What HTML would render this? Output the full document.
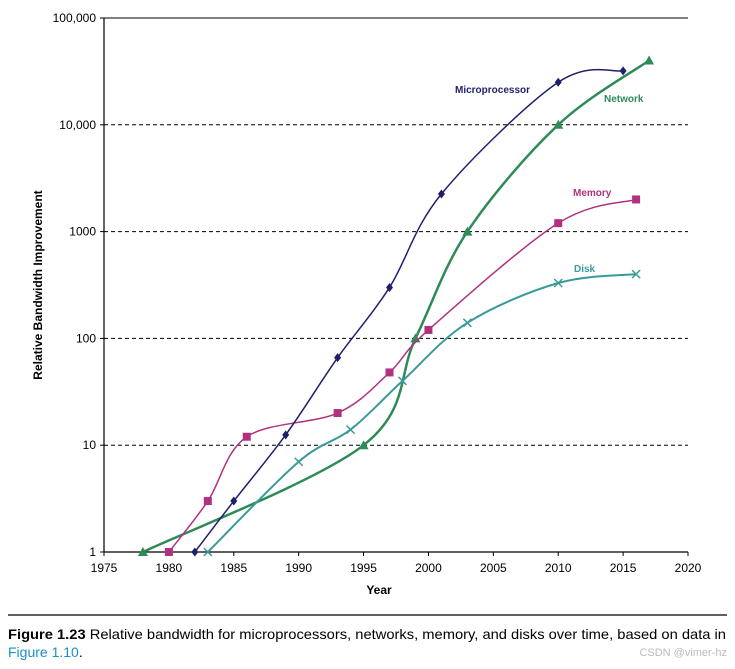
<!DOCTYPE html>
<html><head><meta charset="utf-8"><style>
body{margin:0;background:#fff;width:735px;height:664px;overflow:hidden;font-family:"Liberation Sans",sans-serif}
</style></head><body>
<svg id="chart" width="735" height="664" xmlns="http://www.w3.org/2000/svg" font-family="Liberation Sans, sans-serif">
<g id="grid"></g>
<g id="axes"></g>
<g id="series"></g>
<text x="379" y="594" font-size="12" font-weight="bold" text-anchor="middle">Year</text>
<text transform="translate(42,285) rotate(-90)" font-size="12" font-weight="bold" text-anchor="middle">Relative Bandwidth Improvement</text>
<line x1="8" y1="615" x2="727" y2="615" stroke="#000" stroke-width="1.2"/>
<text x="8" y="639" font-size="14" textLength="718" lengthAdjust="spacingAndGlyphs"><tspan font-weight="bold">Figure 1.23</tspan>  Relative bandwidth for microprocessors, networks, memory, and disks over time, based on data in</text>
<text x="8" y="657" font-size="14" fill="#1a8fc9">Figure 1.10<tspan fill="#000">.</tspan></text>
<text x="727" y="656" font-size="11" fill="#bbb" text-anchor="end">CSDN @vimer-hz</text>
</svg>
<script>
const xTicks=[1975,1980,1985,1990,1995,2000,2005,2010,2015,2020];
const yTicks=[1,10,100,1000,10000,100000];
const yTickLabels=["1","10","100","1000","10,000","100,000"];
const microYears=[1982,1985,1989,1993,1997,2001,2010,2015];
const microVals=[1,3,12.5,66,300,2250,25000,32000];
const netYears=[1978,1995,1999,2003,2010,2017];
const netVals=[1,10,100,1000,10000,40000];
const memYears=[1980,1983,1986,1993,1997,2000,2010,2016];
const memVals=[1,3,12,20,48,120,1200,2000];
const diskYears=[1983,1990,1994,1998,2003,2010,2016];
const diskVals=[1,7,14,40,140,330,400];
const NS="http://www.w3.org/2000/svg";
const X0=104,X1=688,Y0=552,Y1=18;
const xs=v=>X0+(v-1975)/(2020-1975)*(X1-X0);
const ys=v=>Y0-Math.log10(v)/5*(Y0-Y1);
function mk(tag,attrs,parent){const e=document.createElementNS(NS,tag);for(const k in attrs)e.setAttribute(k,attrs[k]);parent.appendChild(e);return e;}
const grid=document.getElementById('grid'),axes=document.getElementById('axes'),ser=document.getElementById('series');
yTicks.forEach((t,i)=>{
  const y=ys(t);
  if(i>0&&i<yTicks.length-1){const l=mk('line',{x1:X0,x2:X1,y1:y,y2:y,stroke:'#000','stroke-dasharray':'4,3','stroke-width':1},grid);
  
  }
  const tk=mk('line',{x1:X0-4,x2:X0,y1:y,y2:y,stroke:'#000'},axes);
  
  
  const tx=mk('text',{x:X0-8,y:y+4,'font-size':12,'text-anchor':'end'},axes);tx.textContent=yTickLabels[i];
  
  
});
const topBorder=mk('line',{x1:X0,x2:X1,y1:Y1,y2:Y1,stroke:'#000'},axes);


const yAxisLine=mk('line',{x1:X0,x2:X0,y1:Y1,y2:Y0,stroke:'#000','stroke-width':1.2},axes);


const xAxisLine=mk('line',{x1:X0,x2:X1,y1:Y0,y2:Y0,stroke:'#000','stroke-width':1.2},axes);


xTicks.forEach(t=>{
  const x=xs(t);
  const tk=mk('line',{x1:x,x2:x,y1:Y0,y2:Y0+4,stroke:'#000'},axes);
  
  
  const tx=mk('text',{x:x,y:Y0+20,'font-size':12,'text-anchor':'middle'},axes);tx.textContent=t;
  
  
});
function curve(px){let d=`M${px[0][0]},${px[0][1]}`;for(let i=0;i<px.length-1;i++){const p0=px[i-1]||px[i],p1=px[i],p2=px[i+1],p3=px[i+2]||p2;const c1=[p1[0]+(p2[0]-p0[0])/6,p1[1]+(p2[1]-p0[1])/6],c2=[p2[0]-(p3[0]-p1[0])/6,p2[1]-(p3[1]-p1[1])/6];d+=`C${c1[0]},${c1[1]} ${c2[0]},${c2[1]} ${p2[0]},${p2[1]}`;}return d;}
function series(name,years,vals,color,w,marker,label,lx,ly){
  const g=mk('g',{},ser);
  
  
  const px=years.map((y,i)=>[xs(y),ys(vals[i])]);
  const p=mk('path',{d:curve(px),fill:'none',stroke:color,'stroke-width':w},g);
  
  
  px.forEach(([x,y])=>{let m;
    if(marker==='diamond')m=mk('polygon',{points:`${x},${y-4.5} ${x+3.5},${y} ${x},${y+4.5} ${x-3.5},${y}`,fill:color},g);
    else if(marker==='square')m=mk('rect',{x:x-4,y:y-4,width:8,height:8,fill:color},g);
    else if(marker==='triangle')m=mk('polygon',{points:`${x},${y-5} ${x+5},${y+4} ${x-5},${y+4}`,fill:color},g);
    else m=mk('path',{d:`M${x-4},${y-4}L${x+4},${y+4}M${x-4},${y+4}L${x+4},${y-4}`,stroke:color,'stroke-width':1.5},g);
    
    });
  const t=mk('text',{x:lx,y:ly,'font-size':10,'font-weight':'bold',fill:color},g);t.textContent=label;
  
  
}
series('network',netYears,netVals,'#2e8b57',2.5,'triangle','Network',604,102);
series('memory',memYears,memVals,'#b0317f',1.5,'square','Memory',573,196);
series('disk',diskYears,diskVals,'#3a9a9a',2,'x','Disk',574,272);
series('microprocessor',microYears,microVals,'#1f1f6e',1.5,'diamond','Microprocessor',455,93);
</script>
</body></html>
